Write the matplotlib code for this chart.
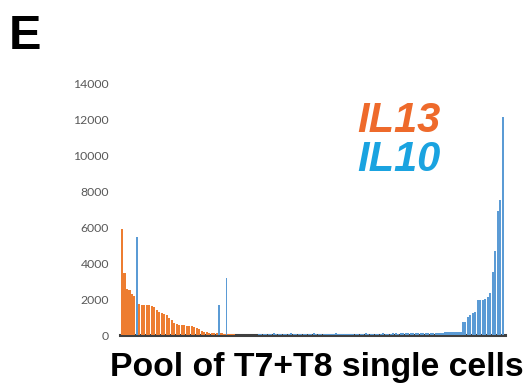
import matplotlib
matplotlib.use("Agg")
import matplotlib.pyplot as plt
import numpy as np

# ---- data ----
n_cells = 154
il13_values = [5900, 3450, 2550, 2500, 2300, 2150, 1950, 1700, 1690, 1670,
               1660, 1640, 1600, 1580, 1400, 1300, 1250, 1150, 1100, 950,
               820, 680, 600, 580, 570, 530, 500, 490, 480, 440,
               380, 310, 230, 170, 150, 130, 120, 110, 100, 100,
               90, 80, 80, 70, 70, 60]
il10_spikes = {6: 5450, 39: 1670, 42: 3150}
il10_low_start = 55
il10_low = [75, 70, 80, 75, 65, 75, 85, 70, 75, 80,
            75, 70, 75, 85, 75, 70, 80, 75, 75, 70,
            75, 80, 85, 75, 70, 75, 75, 80, 70, 75,
            75, 85, 80, 75, 70, 75, 75, 80, 75, 70,
            75, 80, 75, 85, 75, 70, 75, 80, 75, 75,
            85, 80, 75, 75, 85, 85, 80, 85, 90, 85,
            90, 95, 95, 100, 100, 105, 105, 110, 115, 115,
            125, 125, 130, 135, 135, 140, 145, 145, 150, 155,
            155, 160]
il10_tail = [700, 720, 1000, 1130, 1250, 1280, 1940, 1950, 1970, 2000,
             2130, 2350, 3500, 4670, 6900, 7500, 12100]
y_ticks = [0, 2000, 4000, 6000, 8000, 10000, 12000, 14000]

orange = "#ED7D31"
blue = "#5B9BD5"

il13 = np.zeros(n_cells)
il13[:len(il13_values)] = il13_values
il10 = np.zeros(n_cells)
for k, v in il10_spikes.items():
    il10[k] = v
il10[il10_low_start:il10_low_start + len(il10_low)] = il10_low
il10[n_cells - len(il10_tail):] = il10_tail

fig = plt.figure(figsize=(5.27, 3.83), dpi=100)
ax = fig.add_axes([120 / 527, 48 / 383, 385 / 527, 252 / 383])

x = np.arange(n_cells)
ax.bar(x, il13, width=0.85, color=orange, linewidth=0, zorder=2)
spike_idx = list(il10_spikes.keys())
mask = np.ones(n_cells, bool)
mask[spike_idx] = False
ax.bar(x[mask], il10[mask], width=0.85, color=blue, linewidth=0, zorder=3)
ax.bar(spike_idx, [il10_spikes[k] for k in spike_idx], width=0.7,
       color=blue, linewidth=0, zorder=3)

ax.set_xlim(-0.8, n_cells - 0.1)
ax.set_ylim(0, 14000)
ax.set_yticks(y_ticks)
ax.set_yticklabels([str(t) for t in y_ticks], fontsize=8.8, color="#595959",
                   fontfamily="Lato")
ax.tick_params(axis="y", length=0, pad=8)
ax.set_xticks([])
for s in ["top", "right", "left"]:
    ax.spines[s].set_visible(False)
ax.spines["bottom"].set_color("#404040")
ax.spines["bottom"].set_linewidth(2.2)
ax.spines["bottom"].set_zorder(1)
ax.set_axisbelow(True)

fig.text(9 / 527, 1 - 49 / 383, "E", fontsize=35, fontweight="bold",
         fontfamily="Liberation Sans", ha="left", va="baseline")
fig.text(357 / 527, 1 - 132 / 383, "IL13", fontsize=30, fontweight="bold",
         style="italic", color="#EE6A2B", fontfamily="Liberation Sans",
         ha="left", va="baseline")
fig.text(357 / 527, 1 - 171 / 383, "IL10", fontsize=30, fontweight="bold",
         style="italic", color="#1AA3E0", fontfamily="Liberation Sans",
         ha="left", va="baseline")
fig.text(110 / 527, 1 - 376 / 383, "Pool of T7+T8 single cells", fontsize=24.3,
         fontweight="bold", fontfamily="Liberation Sans", ha="left",
         va="baseline")

fig.savefig("out.png", dpi=100)
